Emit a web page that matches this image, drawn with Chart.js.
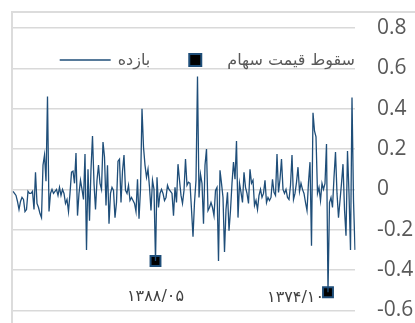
<!DOCTYPE html>
<html>
<head>
<meta charset="utf-8">
<script src="https://cdn.jsdelivr.net/npm/chart.js@4"></script>
<style>
    html, body { margin: 0; padding: 0; background: #fff; }
    #wrap { position: relative; width: 415px; height: 323px; overflow: hidden; }
    #frame { position: absolute; left: 11px; top: 11px; right: 0; bottom: 0;
        border-top: 2px solid #dcdcdc; border-left: 2px solid #dcdcdc; }
    canvas { position: absolute; left: 0; top: 0; }
</style>
</head>
<body>
<div id="wrap">
    <div id="frame"></div>
    <canvas id="myChart" width="415" height="323"></canvas>
</div>
<script>
// monthly returns (بازده)
const bazdeh = [
    -0.01, -0.02, -0.03, -0.06, -0.10, -0.06, -0.04, -0.05, -0.11, -0.10,
    -0.01, -0.02, -0.02, -0.01, -0.10, 0.085, -0.07, -0.09, -0.12, -0.14,
    0.12, 0.17, 0.04, 0.46, -0.11, -0.02, 0.0, -0.02, -0.01, 0.0,
    -0.03, 0.01, -0.03, 0.0, -0.02, -0.07, -0.05, -0.11, -0.02, 0.085,
    0.09, 0.03, 0.18, -0.13, -0.02, 0.045, 0.0, -0.05, 0.175, -0.30,
    0.10, -0.155, 0.1, 0.265, 0.03, -0.10, 0.045, 0.12, 0.03, 0.0,
    0.235, 0.16, -0.08, 0.12, -0.17, -0.02, 0.01, -0.005, -0.14, -0.065,
    0.14, 0.15, -0.065, 0.09, 0.17, -0.005, -0.02, 0.02, -0.055, -0.04,
    -0.055, -0.07, -0.11, 0.05, -0.145, 0.0, 0.40, 0.21, 0.12, 0.06,
    0.10, 0.01, -0.105, 0.045, 0.0, -0.355, 0.06, -0.09, -0.02, 0.0,
    -0.02, -0.055, -0.04, 0.02, 0.0, -0.01, -0.02, -0.13, 0.01, -0.065,
    0.125, 0.045, -0.03, -0.07, -0.005, 0.15, 0.02, 0.035, 0.03, -0.10,
    -0.235, -0.065, 0.045, 0.56, -0.04, 0.075, 0.03, -0.17, 0.12, 0.20,
    -0.105, -0.09, -0.065, -0.09, -0.13, -0.005, 0.01, -0.355, 0.095, 0.03,
    -0.04, -0.31, -0.1, -0.015, -0.205, -0.105, 0.03, 0.135, 0.05, 0.24,
    -0.14, 0.03, -0.015, -0.065, 0.085, 0.01, -0.02, -0.07, 0.10, 0.03,
    0.045, -0.08, -0.055, -0.10, -0.03, 0.0, -0.04, -0.02, 0.045, -0.065,
    -0.04, -0.055, -0.04, 0.05, -0.015, -0.03, 0.175, -0.015, 0.05, 0.15,
    0.0, -0.02, 0.0, -0.04, -0.05, 0.02, 0.17, -0.05, -0.02, 0.035,
    0.11, -0.01, 0.03, 0.0, -0.02, -0.065, -0.105, 0.035, 0.135, -0.28,
    0.38, 0.29, 0.26, -0.02, 0.01, -0.055, 0.03, 0.0, 0.03, 0.225,
    -0.51, -0.065, -0.04, -0.09, 0.06, 0.185, -0.02, -0.14, -0.055, 0.03,
    0.125, -0.1, -0.23, 0.19, -0.02, -0.30, 0.455, -0.055, -0.30
];
const months = bazdeh.map((v, i) => String(i + 1));

// months with a price crash (سقوط قیمت سهام)
const crashIdx = [95, 210];
const crashLabels = ['۱۳۸۸/۰۵', '۱۳۷۴/۱۰'];

const seriesNames = ['بازده', 'سقوط قیمت سهام'];
const yTickValues = [-0.6, -0.4, -0.2, 0, 0.2, 0.4, 0.6, 0.8];

const blue = '#1f4e79';
const persianFont = '"DejaVu Sans", sans-serif';

const crashData = bazdeh.map((v, i) => crashIdx.includes(i) ? v : null);

// legend drawn inside the plot, like the excel one
const legendInside = {
    id: 'legendInside',
    afterDraw(chart) {
        const ctx = chart.ctx;
        const area = chart.chartArea;
        const ds = chart.data.datasets;
        const y = area.top + 33;
        ctx.save();
        ctx.font = '16px ' + persianFont;
        ctx.fillStyle = '#595959';
        ctx.textBaseline = 'middle';
        ctx.textAlign = 'right';

        let right = area.right;
        ctx.fillText(ds[1].label, right, y);
        const w2 = ctx.measureText(ds[1].label).width;
        const sx = right - w2 - 32;
        ctx.fillStyle = '#000';
        ctx.fillRect(sx - 6, y - 7, 12, 12);
        ctx.strokeStyle = blue;
        ctx.lineWidth = 2;
        ctx.strokeRect(sx - 6, y - 7, 12, 12);

        const r1 = sx - 45;
        ctx.fillStyle = '#595959';
        ctx.fillText(ds[0].label, r1, y);
        const w1 = ctx.measureText(ds[0].label).width;
        ctx.strokeStyle = blue;
        ctx.lineWidth = 1.3;
        ctx.beginPath();
        ctx.moveTo(r1 - w1 - 58, y - 1);
        ctx.lineTo(r1 - w1 - 7, y - 1);
        ctx.stroke();
        ctx.restore();
    }
};

// date labels next to the crash markers
const crashText = {
    id: 'crashText',
    beforeDatasetsDraw(chart) {
        const ctx = chart.ctx;
        const meta = chart.getDatasetMeta(1);
        ctx.save();
        ctx.font = '16px ' + persianFont;
        ctx.fillStyle = '#404040';
        ctx.textBaseline = 'middle';
        crashIdx.forEach((idx, k) => {
            const p = meta.data[idx];
            if (k === 0) {
                ctx.textAlign = 'center';
                ctx.fillText(crashLabels[k], p.x, p.y + 36);
            } else {
                ctx.textAlign = 'right';
                ctx.fillText(crashLabels[k], p.x - 4, p.y + 6);
            }
        });
        ctx.restore();
    }
};

const ctx = document.getElementById('myChart').getContext('2d');
const myChart = new Chart(ctx, {
    type: 'line',
    data: {
        labels: months,
        datasets: [
            {
                label: seriesNames[0],
                data: bazdeh,
                borderColor: blue,
                borderWidth: 1.3,
                pointRadius: 0,
                tension: 0,
                fill: false
            },
            {
                label: seriesNames[1],
                data: crashData,
                showLine: false,
                pointStyle: 'rect',
                pointRadius: 7,
                pointBackgroundColor: '#000',
                pointBorderColor: blue,
                pointBorderWidth: 2
            }
        ]
    },
    options: {
        responsive: false,
        animation: false,
        devicePixelRatio: 1,
        layout: { padding: { left: 13, top: 28, bottom: 12, right: 0 } },
        plugins: {
            legend: { display: false },
            tooltip: { enabled: false }
        },
        scales: {
            x: {
                display: false,
                offset: false
            },
            y: {
                position: 'right',
                min: -0.6,
                max: 0.8,
                afterBuildTicks: scale => {
                    scale.ticks = yTickValues.map(v => ({ value: v }));
                },
                afterFit: scale => { scale.width = 60; },
                grid: {
                    color: '#d9d9d9',
                    lineWidth: 1.5,
                    drawTicks: true,
                    tickLength: 22,
                    tickColor: 'rgba(0,0,0,0)'
                },
                border: { display: false },
                ticks: {
                    padding: 0,
                    color: '#595959',
                    font: { family: '"Open Sans"', size: 21 },
                    callback: v => String(v)
                }
            }
        }
    },
    plugins: [crashText, legendInside]
});
</script>
</body>
</html>
